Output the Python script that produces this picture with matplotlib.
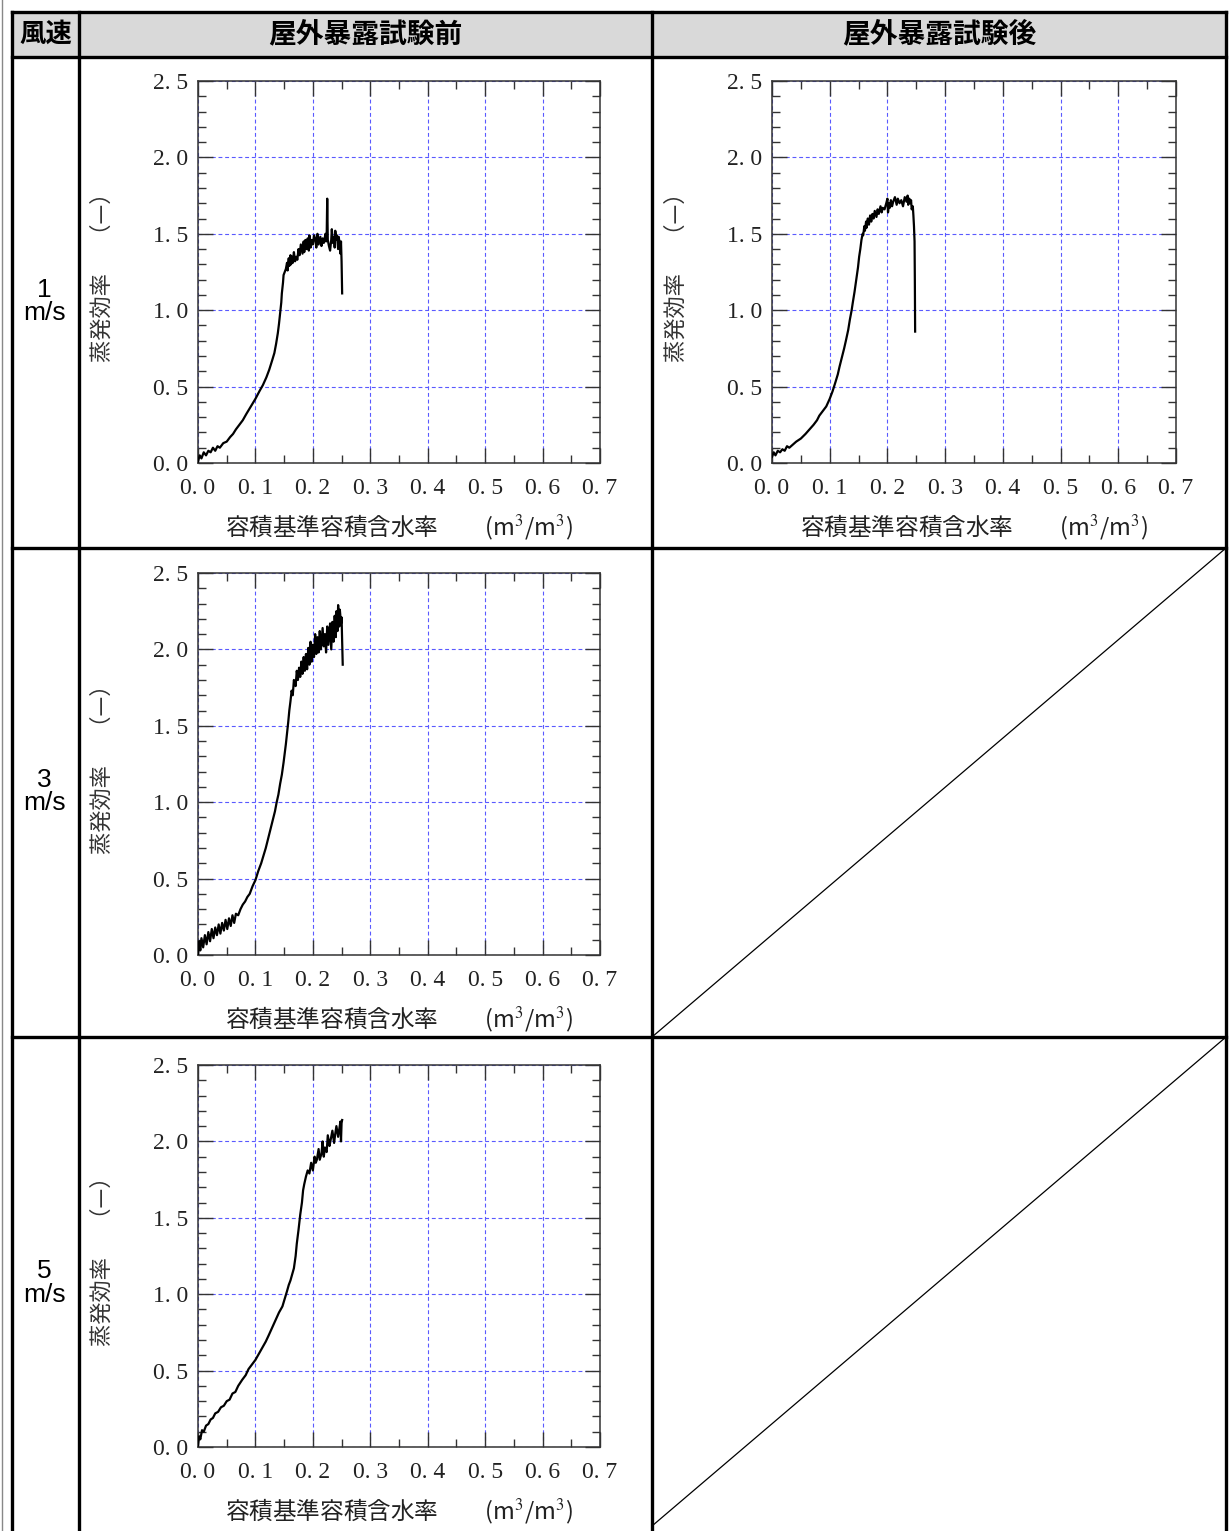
import numpy as np
import matplotlib.pyplot as plt
from matplotlib.ticker import MultipleLocator, FuncFormatter

plt.rcParams['font.family'] = ['Noto Sans CJK JP', 'DejaVu Sans']
plt.rcParams['mathtext.fontset'] = 'stix'

# 表の見出し
col_titles = ['風速', '屋外暴露試験前', '屋外暴露試験後']
row_titles = ['1\nm/s', '3\nm/s', '5\nm/s']
xlabel_txt = '容積基準容積含水率　　(m$^3$/m$^3$)'
ylabel_txt = '蒸発効率　 （—）'

# 1 m/s 試験前
x_1ms_pre = [0.0, 0.003, 0.006, 0.01, 0.014, 0.018, 0.022, 0.026, 0.03, 0.034, 0.038, 0.044, 0.05,
             0.056, 0.061, 0.066, 0.072, 0.078, 0.084, 0.092, 0.1, 0.107, 0.113, 0.119, 0.124, 0.129,
             0.133, 0.136, 0.139, 0.141, 0.143, 0.145, 0.146, 0.148, 0.149, 0.151, 0.153, 0.155, 0.156,
             0.158, 0.159, 0.161, 0.162, 0.164, 0.165, 0.167, 0.169, 0.171, 0.173, 0.175, 0.177, 0.179,
             0.182, 0.184, 0.185, 0.187, 0.189, 0.191, 0.193, 0.194, 0.196, 0.198, 0.2, 0.202, 0.204,
             0.206, 0.208, 0.21, 0.213, 0.215, 0.217, 0.219, 0.222, 0.223, 0.224, 0.225, 0.226, 0.228,
             0.23, 0.232, 0.233, 0.235, 0.237, 0.238, 0.239, 0.241, 0.242, 0.244, 0.245, 0.247, 0.248,
             0.249, 0.25, 0.251]
y_1ms_pre = [0.01, 0.05, 0.03, 0.07, 0.05, 0.08, 0.07, 0.10, 0.08, 0.11, 0.10, 0.13, 0.14,
             0.17, 0.19, 0.22, 0.25, 0.28, 0.32, 0.37, 0.42, 0.47, 0.51, 0.56, 0.61, 0.67,
             0.72, 0.78, 0.85, 0.91, 0.98, 1.05, 1.11, 1.18, 1.23, 1.25, 1.27, 1.31, 1.26,
             1.34, 1.29, 1.36, 1.30, 1.35, 1.31, 1.38, 1.32, 1.35, 1.33, 1.40, 1.36, 1.43,
             1.37, 1.45, 1.38, 1.46, 1.40, 1.47, 1.39, 1.49, 1.41, 1.46, 1.43, 1.49, 1.47,
             1.41, 1.50, 1.43, 1.48, 1.42, 1.47, 1.44, 1.50, 1.45, 1.47, 1.73, 1.46, 1.42,
             1.39, 1.46, 1.53, 1.44, 1.48, 1.41, 1.52, 1.46, 1.49, 1.40, 1.48, 1.43, 1.37,
             1.45, 1.32, 1.11]

# 1 m/s 試験後
x_1ms_post = [0.0, 0.003, 0.006, 0.01, 0.014, 0.018, 0.022, 0.026, 0.03, 0.036, 0.042, 0.05, 0.058,
              0.065, 0.072, 0.078, 0.082, 0.088, 0.094, 0.1, 0.105, 0.11, 0.114, 0.117, 0.121,
              0.125, 0.128, 0.132, 0.135, 0.138, 0.14, 0.143, 0.146, 0.149, 0.151, 0.153, 0.155,
              0.157, 0.158, 0.16, 0.161, 0.163, 0.164, 0.166, 0.168, 0.17, 0.172, 0.174, 0.176,
              0.178, 0.181, 0.183, 0.185, 0.188, 0.19, 0.192, 0.195, 0.198, 0.2, 0.201, 0.203,
              0.204, 0.206, 0.208, 0.21, 0.213, 0.216, 0.218, 0.221, 0.224, 0.227, 0.23, 0.233,
              0.235, 0.236, 0.238, 0.239, 0.241, 0.242, 0.244, 0.245, 0.246, 0.247, 0.2475, 0.248]
y_1ms_post = [0.04, 0.07, 0.05, 0.08, 0.07, 0.09, 0.08, 0.11, 0.10, 0.12, 0.14, 0.16, 0.19,
              0.22, 0.25, 0.28, 0.31, 0.34, 0.37, 0.42, 0.47, 0.53, 0.58, 0.63, 0.69,
              0.75, 0.80, 0.87, 0.94, 1.0, 1.05, 1.12, 1.20, 1.28, 1.35, 1.40, 1.46,
              1.50, 1.49, 1.55, 1.52, 1.58, 1.54, 1.60, 1.56, 1.62, 1.58, 1.63, 1.60,
              1.65, 1.61, 1.66, 1.63, 1.68, 1.64, 1.67, 1.66, 1.70, 1.73, 1.64, 1.70,
              1.67, 1.72, 1.68, 1.71, 1.74, 1.69, 1.73, 1.70, 1.72, 1.68, 1.74, 1.71,
              1.75, 1.69, 1.73, 1.70, 1.72, 1.66, 1.68, 1.62, 1.55, 1.45, 1.20, 0.86]

# 3 m/s 試験前
x_3ms_pre = [0.0, 0.002, 0.004, 0.006, 0.009, 0.012, 0.015, 0.018, 0.021, 0.024, 0.027, 0.03, 0.033,
             0.036, 0.039, 0.042, 0.045, 0.048, 0.051, 0.054, 0.057, 0.06, 0.063, 0.066, 0.07,
             0.074, 0.078, 0.082, 0.086, 0.09, 0.095, 0.1, 0.105, 0.11, 0.114, 0.118, 0.122,
             0.126, 0.13, 0.134, 0.137, 0.14, 0.143, 0.146, 0.149, 0.151, 0.153, 0.155, 0.157,
             0.159, 0.161, 0.163, 0.165, 0.167, 0.17, 0.172, 0.174, 0.176, 0.178, 0.18, 0.182,
             0.184, 0.186, 0.188, 0.19, 0.192, 0.194, 0.196, 0.198, 0.2, 0.202, 0.204, 0.206,
             0.208, 0.21, 0.212, 0.214, 0.217, 0.219, 0.221, 0.223, 0.225, 0.227, 0.23, 0.232,
             0.234, 0.236, 0.238, 0.24, 0.241, 0.243, 0.244, 0.246, 0.247, 0.249, 0.25, 0.252]
y_3ms_pre = [0.0, 0.09, 0.03, 0.11, 0.05, 0.13, 0.07, 0.15, 0.09, 0.17, 0.11, 0.18, 0.13,
             0.20, 0.14, 0.21, 0.16, 0.23, 0.17, 0.24, 0.19, 0.26, 0.21, 0.27, 0.26,
             0.30, 0.33, 0.35, 0.38, 0.40, 0.45, 0.49, 0.55, 0.60, 0.65, 0.70, 0.76,
             0.82, 0.88, 0.94, 1.00, 1.05, 1.12, 1.18, 1.26, 1.32, 1.38, 1.45, 1.52,
             1.60, 1.66, 1.73, 1.70, 1.80, 1.76, 1.86, 1.80, 1.88, 1.82, 1.92, 1.84,
             1.95, 1.86, 1.97, 1.87, 2.01, 1.90, 2.05, 1.92, 2.03, 1.95, 2.10, 1.97,
             2.08, 1.98, 2.12, 2.00, 2.14, 2.02, 2.10, 1.98, 2.15, 2.03, 2.17, 2.00,
             2.18, 2.05, 2.22, 2.08, 2.25, 2.12, 2.29, 2.15, 2.26, 2.17, 2.21, 1.90]

# 5 m/s 試験前
x_5ms_pre = [0.0, 0.002, 0.004, 0.007, 0.01, 0.014, 0.018, 0.022, 0.026, 0.03, 0.035, 0.04, 0.045,
             0.05, 0.055, 0.06, 0.065, 0.07, 0.077, 0.083, 0.088, 0.094, 0.1, 0.106, 0.112, 0.118,
             0.123, 0.129, 0.135, 0.141, 0.147, 0.151, 0.155, 0.158, 0.161, 0.164, 0.167, 0.17,
             0.172, 0.175, 0.178, 0.181, 0.183, 0.185, 0.188, 0.191, 0.194, 0.197, 0.2, 0.203,
             0.205, 0.207, 0.21, 0.212, 0.215, 0.217, 0.219, 0.221, 0.224, 0.226, 0.229, 0.231,
             0.234, 0.237, 0.239, 0.241, 0.244, 0.246, 0.248, 0.249, 0.25, 0.251]
y_5ms_pre = [0.01, 0.07, 0.05, 0.11, 0.10, 0.14, 0.15, 0.18, 0.19, 0.22, 0.23, 0.26, 0.27,
             0.30, 0.31, 0.35, 0.36, 0.40, 0.44, 0.47, 0.51, 0.54, 0.57, 0.61, 0.65, 0.69,
             0.73, 0.78, 0.83, 0.88, 0.92, 0.97, 1.02, 1.06, 1.09, 1.13, 1.17, 1.25,
             1.33, 1.42, 1.52, 1.60, 1.68, 1.72, 1.77, 1.81, 1.79, 1.86, 1.81, 1.90,
             1.86, 1.88, 1.95, 1.88, 1.92, 2.00, 1.90, 1.96, 1.93, 2.04, 1.97, 2.01,
             2.07, 1.99, 2.05, 2.10, 2.03, 2.08, 2.13, 2.00, 2.12, 2.14]

panel_x = [x_1ms_pre, x_1ms_post, x_3ms_pre, x_5ms_pre]
panel_y = [y_1ms_pre, y_1ms_post, y_3ms_pre, y_5ms_pre]

W, H = 1229, 1531
fig = plt.figure(figsize=(W / 100, H / 100), dpi=100)

# 表の罫線（ピクセル座標）
bg = fig.add_axes([0, 0, 1, 1])
bg.set_xlim(0, W)
bg.set_ylim(H, 0)
bg.axis('off')

left, c1, c2, right = 12, 79, 652, 1226
top, hb = 12, 57
rows = [57, 548, 1037, 1531]

bg.fill_between([left, right], top, hb, color='#d9d9d9', zorder=0)
bg.plot([1.5, 1.5], [0, H], color='#888888', lw=1)
lw_t = 2.4
bg.plot([left, right], [top, top], color='k', lw=lw_t)
bg.plot([left, right], [hb, hb], color='k', lw=lw_t)
for yy in rows[1:3]:
    bg.plot([left, right], [yy, yy], color='k', lw=lw_t)
for xx in [left, c1, c2, right]:
    bg.plot([xx, xx], [top, H], color='k', lw=lw_t)

# 空欄の斜線
bg.plot([c2, right], [rows[2], rows[1]], color='k', lw=0.9)
bg.plot([c2, right], [1526, rows[2]], color='k', lw=0.9)

bg.text((left + c1) / 2, 34, col_titles[0], ha='center', va='center', fontsize=19, weight='bold')
bg.text((c1 + c2) / 2, 34, col_titles[1], ha='center', va='center', fontsize=20, weight='bold')
bg.text((c2 + right) / 2, 34, col_titles[2], ha='center', va='center', fontsize=20, weight='bold')
for i, t in enumerate(row_titles):
    bg.text((left + c1) / 2 - 1, (rows[i] + rows[i + 1]) / 2 - 1,
            t, ha='center', va='center', fontsize=19, family='Liberation Sans',
            linespacing=0.95)


def add_chart(x0, y0, x1, y1, xs, ys):
    ax = fig.add_axes([x0 / W, 1 - y1 / H, (x1 - x0) / W, (y1 - y0) / H])
    ax.plot(xs, ys, color='k', lw=1.6, zorder=3)
    ax.set_xlim(0, 0.7)
    ax.set_ylim(0, 2.5)
    ax.xaxis.set_major_locator(MultipleLocator(0.1))
    ax.xaxis.set_minor_locator(MultipleLocator(0.05))
    ax.yaxis.set_major_locator(MultipleLocator(0.5))
    ax.yaxis.set_minor_locator(MultipleLocator(0.1))
    fmt = FuncFormatter(lambda v, p: ('%.1f' % v).replace('.', '. '))
    ax.xaxis.set_major_formatter(fmt)
    ax.yaxis.set_major_formatter(fmt)
    ax.tick_params(which='both', direction='in', top=True, right=True,
                   color='#333333', width=1)
    ax.tick_params(which='major', length=11)
    ax.tick_params(which='minor', length=6)
    ax.tick_params(axis='x', which='major', pad=11)
    ax.tick_params(axis='y', which='major', pad=7)
    for lab in ax.get_xticklabels() + ax.get_yticklabels():
        lab.set_family('Liberation Serif')
        lab.set_fontsize(17)
        lab.set_color('#222222')
    for sp in ax.spines.values():
        sp.set_color('#333333')
        sp.set_linewidth(1.1)
    ax.grid(True, which='major', color='#5a5aff', lw=0.8, linestyle=(0, (3.5, 2.5)))
    ax.set_xlabel(xlabel_txt, fontsize=17, labelpad=10, color='#222222')
    ax.set_ylabel(ylabel_txt, fontsize=16, labelpad=28, color='#333333')
    return ax


boxes = [(198, 81, 600, 463), (772, 81, 1176, 463),
         (198, 573, 600, 955), (198, 1065, 600, 1447)]
for (bx0, by0, bx1, by1), xs, ys in zip(boxes, panel_x, panel_y):
    add_chart(bx0, by0, bx1, by1, xs, ys)

fig.savefig('out.png', dpi=100)
